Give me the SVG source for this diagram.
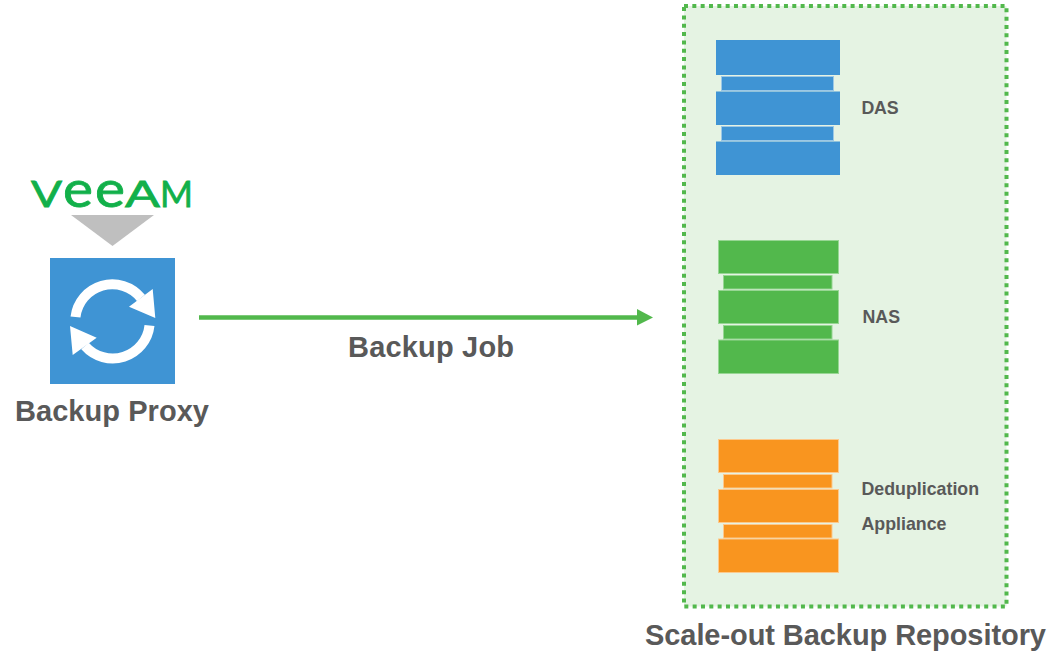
<svg xmlns="http://www.w3.org/2000/svg" width="1051" height="651" viewBox="0 0 1051 651">
<style>
text{font-family:"Liberation Sans",Arial,sans-serif;font-weight:700;fill:#595959}
.big{font-size:29px}
.small{font-size:17.800px}
.blue{fill:#3f94d4}
.green{fill:#52b84c}
.orange{fill:#f9951f}
.bl{stroke:#9cc8e6;stroke-width:1}
.gl{stroke:#97d693;stroke-width:1}
.ol{stroke:#fcc98d;stroke-width:1}
</style>
<rect width="1051" height="651" fill="#fff"/>
<g id="repository">
<rect x="684" y="6" width="322.500" height="600.500" fill="#e5f3e3"/>
<rect x="684" y="6" width="322.500" height="600.500" fill="none" stroke="#52b84c" stroke-width="4" stroke-dasharray="4 4.330"/>
<text class="big" x="645" y="644.500" textLength="401">Scale-out Backup Repository</text>
</g>
<g id="das">
<rect class="blue" x="716" y="40" width="124" height="35"/>
<rect class="blue bl" x="721.500" y="76.500" width="112" height="14"/>
<rect class="blue" x="716" y="91.500" width="124" height="33.500"/>
<rect class="blue bl" x="721.500" y="126.500" width="112" height="14"/>
<rect class="blue" x="716" y="141.500" width="124" height="33.500"/>
<text class="small" x="861.500" y="113.500" textLength="37">DAS</text>
</g>
<g id="nas">
<rect class="green gl" x="718.500" y="240.500" width="120" height="33"/>
<rect class="green gl" x="723.500" y="275.500" width="108.500" height="13.500"/>
<rect class="green gl" x="718.500" y="290.500" width="120" height="33"/>
<rect class="green gl" x="723.500" y="325.500" width="108.500" height="13.500"/>
<rect class="green gl" x="718.500" y="340" width="120" height="33.500"/>
<text class="small" x="862.500" y="322.500">NAS</text>
</g>
<g id="dedup">
<rect class="orange ol" x="718.500" y="439.500" width="120" height="33"/>
<rect class="orange ol" x="723.500" y="474.500" width="108.500" height="13.500"/>
<rect class="orange ol" x="718.500" y="489.500" width="120" height="33"/>
<rect class="orange ol" x="723.500" y="524.500" width="108.500" height="13.500"/>
<rect class="orange ol" x="718.500" y="539" width="120" height="33.500"/>
<text class="small" x="861.500" y="494.500">Deduplication</text>
<text class="small" x="861.500" y="529.500">Appliance</text>
</g>
<g id="proxy">
<rect class="blue" x="50" y="258" width="125" height="126"/>
<path d="M75.500 317A37 37 0 0 1 141 298M149.500 325.500A37 37 0 0 1 85 346" fill="none" stroke="#fff" stroke-width="10"/>
<path d="M152.700 289L155.300 318L129 306.700ZM70 326L96.700 337.700L72.700 355Z" fill="#fff"/>
<text class="big" x="15" y="421" textLength="194">Backup Proxy</text>
</g>
<g id="veeam">
<path d="M71 215H154L112.500 246Z" fill="#bfbfbf"/>
<text y="207" style="font-family:Lato,sans-serif;font-weight:400;fill:#12b04a;stroke:#12b04a;stroke-width:.8px;font-size:37px"><tspan x="31" textLength="31" lengthAdjust="spacingAndGlyphs">V</tspan><tspan x="63" textLength="30" lengthAdjust="spacingAndGlyphs" style="font-size:51px">e</tspan><tspan x="95" textLength="30" lengthAdjust="spacingAndGlyphs" style="font-size:51px">e</tspan><tspan x="125" textLength="35" lengthAdjust="spacingAndGlyphs">A</tspan><tspan x="160" textLength="33" lengthAdjust="spacingAndGlyphs">M</tspan></text>
</g>
<g id="connectors">
<path d="M199 317.500H638" stroke="#52b84c" stroke-width="4.500" fill="none"/>
<path d="M637 309L653 317.500L637 325.500Z" fill="#52b84c"/>
<text class="big" x="348" y="356.500" textLength="166">Backup Job</text>
</g>
</svg>
